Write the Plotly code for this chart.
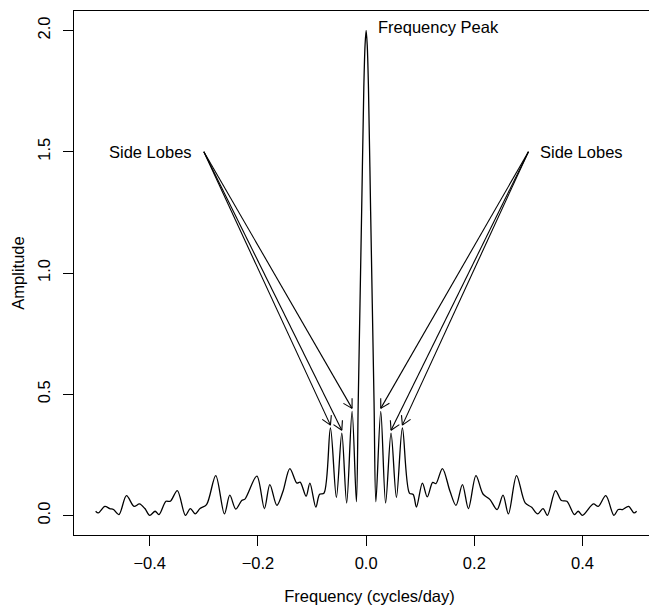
import math
import plotly.graph_objects as go

# ---- data ----
freq = [-0.500, -0.495, -0.483, -0.474, -0.467, -0.457, -0.443, -0.429, -0.419, -0.409,
        -0.400, -0.390, -0.383, -0.370, -0.362, -0.349, -0.334, -0.325, -0.316, -0.307,
        -0.295, -0.278, -0.262, -0.252, -0.241, -0.230, -0.224, -0.202, -0.188, -0.178,
        -0.165, -0.154, -0.141, -0.128, -0.122, -0.111, -0.104, -0.093, -0.086, -0.078,
        -0.066, -0.055, -0.045, -0.036, -0.026, -0.018, -0.0146, -0.0083, -0.0043, -0.002,
        0.0,
        0.002, 0.0043, 0.0083, 0.0146, 0.018, 0.027, 0.036, 0.046, 0.056, 0.067,
        0.080, 0.087, 0.093, 0.104, 0.113, 0.123, 0.129, 0.141, 0.155, 0.166,
        0.178, 0.189, 0.203, 0.216, 0.229, 0.242, 0.253, 0.263, 0.278, 0.294,
        0.306, 0.317, 0.327, 0.335, 0.350, 0.361, 0.371, 0.385, 0.392, 0.400,
        0.420, 0.429, 0.443, 0.458, 0.466, 0.474, 0.485, 0.495, 0.500]
amplitude = [0.018, 0.011, 0.038, 0.029, 0.025, 0.004, 0.082, 0.038, 0.048, 0.029,
             0.001, 0.018, 0.004, 0.059, 0.059, 0.103, 0.001, 0.029, 0.007, 0.029,
             0.045, 0.165, 0.007, 0.084, 0.027, 0.062, 0.068, 0.163, 0.029, 0.128,
             0.042, 0.098, 0.194, 0.134, 0.138, 0.080, 0.134, 0.035, 0.088, 0.092,
             0.361, 0.075, 0.340, 0.052, 0.430, 0.057, 0.470, 1.255, 1.763, 1.940,
             2.000,
             1.940, 1.763, 1.255, 0.470, 0.057, 0.430, 0.052, 0.340, 0.075, 0.361,
             0.093, 0.087, 0.035, 0.134, 0.077, 0.137, 0.132, 0.194, 0.100, 0.042,
             0.128, 0.029, 0.165, 0.089, 0.066, 0.025, 0.084, 0.007, 0.165, 0.052,
             0.034, 0.007, 0.029, 0.001, 0.103, 0.062, 0.059, 0.004, 0.018, 0.001,
             0.048, 0.038, 0.082, 0.001, 0.025, 0.025, 0.038, 0.011, 0.018]

# side-lobe peaks pointed at by the arrows
lobe_freq_left = [-0.066, -0.045, -0.026]
lobe_amp_left = [0.361, 0.340, 0.430]
lobe_freq_right = [0.027, 0.046, 0.067]
lobe_amp_right = [0.430, 0.340, 0.361]
label_left = (-0.3, 1.5)
label_right = (0.3, 1.5)
peak_label = (0.0, 2.0)

x_ticks = [-0.4, -0.2, 0.0, 0.2, 0.4]
y_ticks = [0.0, 0.5, 1.0, 1.5, 2.0]

# ---- layout geometry ----
W, H = 657, 607
ML, MR, MT, MB = 66, 0, 3, 80
PX_PER_UNIT = 541.0
XR = [-0.54, -0.54 + (W - ML - MR) / PX_PER_UNIT]
YR = [-0.08, 2.08]
sx = (W - ML - MR) / (XR[1] - XR[0])
sy = (H - MT - MB) / (YR[1] - YR[0])

FONT = "Liberation Sans, Arial, Helvetica, sans-serif"
FS = 16.5

fig = go.Figure()
fig.add_trace(go.Scatter(x=freq, y=amplitude, mode="lines",
                         line=dict(color="black", width=1.3, shape="spline", smoothing=0.9),
                         hoverinfo="skip", showlegend=False))

# arrows (shaft + open V head), computed from the data points
ax, ay = [], []
head_len = 10.0
head_ang = math.radians(30)
tip_gap = 0.012
def add_arrow(x0, y0, x1, y1):
    ax.extend([x0, x1, None])
    ay.extend([y0, y1, None])
    dxp = (x1 - x0) * sx
    dyp = (y1 - y0) * sy
    a = math.atan2(dyp, dxp)
    for s in (1, -1):
        bx = x1 - head_len * math.cos(a + s * head_ang) / sx
        by = y1 - head_len * math.sin(a + s * head_ang) / sy
        ax.extend([bx, x1, None])
        ay.extend([by, y1, None])

for f, a_ in zip(lobe_freq_left, lobe_amp_left):
    add_arrow(label_left[0], label_left[1], f, a_ + tip_gap)
for f, a_ in zip(lobe_freq_right, lobe_amp_right):
    add_arrow(label_right[0], label_right[1], f, a_ + tip_gap)

fig.add_trace(go.Scatter(x=ax, y=ay, mode="lines", line=dict(color="black", width=1.1),
                         hoverinfo="skip", showlegend=False))

ann_font = dict(family=FONT, size=FS, color="black")
fig.add_annotation(x=label_left[0], y=label_left[1], text="Side Lobes", showarrow=False,
                   xanchor="right", yanchor="middle", xshift=-10, font=ann_font)
fig.add_annotation(x=label_right[0], y=label_right[1], text="Side Lobes", showarrow=False,
                   xanchor="left", yanchor="middle", xshift=10, font=ann_font)
fig.add_annotation(x=peak_label[0], y=peak_label[1], text="Frequency Peak", showarrow=False,
                   xanchor="left", yanchor="middle", xshift=10, yshift=3, font=ann_font)

fig.update_layout(
    width=W, height=H,
    margin=dict(l=ML, r=MR, t=MT, b=MB, pad=0, autoexpand=False),
    paper_bgcolor="white", plot_bgcolor="white",
    font=dict(family=FONT, size=FS, color="black"),
    xaxis=dict(range=XR, showgrid=False, zeroline=False, showline=True, mirror=True,
               automargin=False,
               linecolor="black", linewidth=1.2, ticks="outside", ticklen=10, tickwidth=1.2,
               tickcolor="black", tickvals=x_ticks, ticktext=[("\u2212" if v < 0 else "") + f"{abs(v):.1f}" for v in x_ticks],
               tickfont=dict(size=FS), ticklabelstandoff=3,
               title=dict(text="Frequency (cycles/day)", font=dict(size=FS), standoff=19)),
    yaxis=dict(range=YR, showgrid=False, zeroline=False, showline=True, mirror=False,
               automargin=False,
               linecolor="black", linewidth=1.2, ticks="outside", ticklen=10, tickwidth=1.2,
               tickcolor="black", tickvals=y_ticks, ticktext=[f"{v:.1f}" for v in y_ticks],
               tickangle=-90, tickfont=dict(size=FS), ticklabelstandoff=6,
               title=dict(text="Amplitude", font=dict(size=FS), standoff=6)),
)

fig.write_html("out.html")
